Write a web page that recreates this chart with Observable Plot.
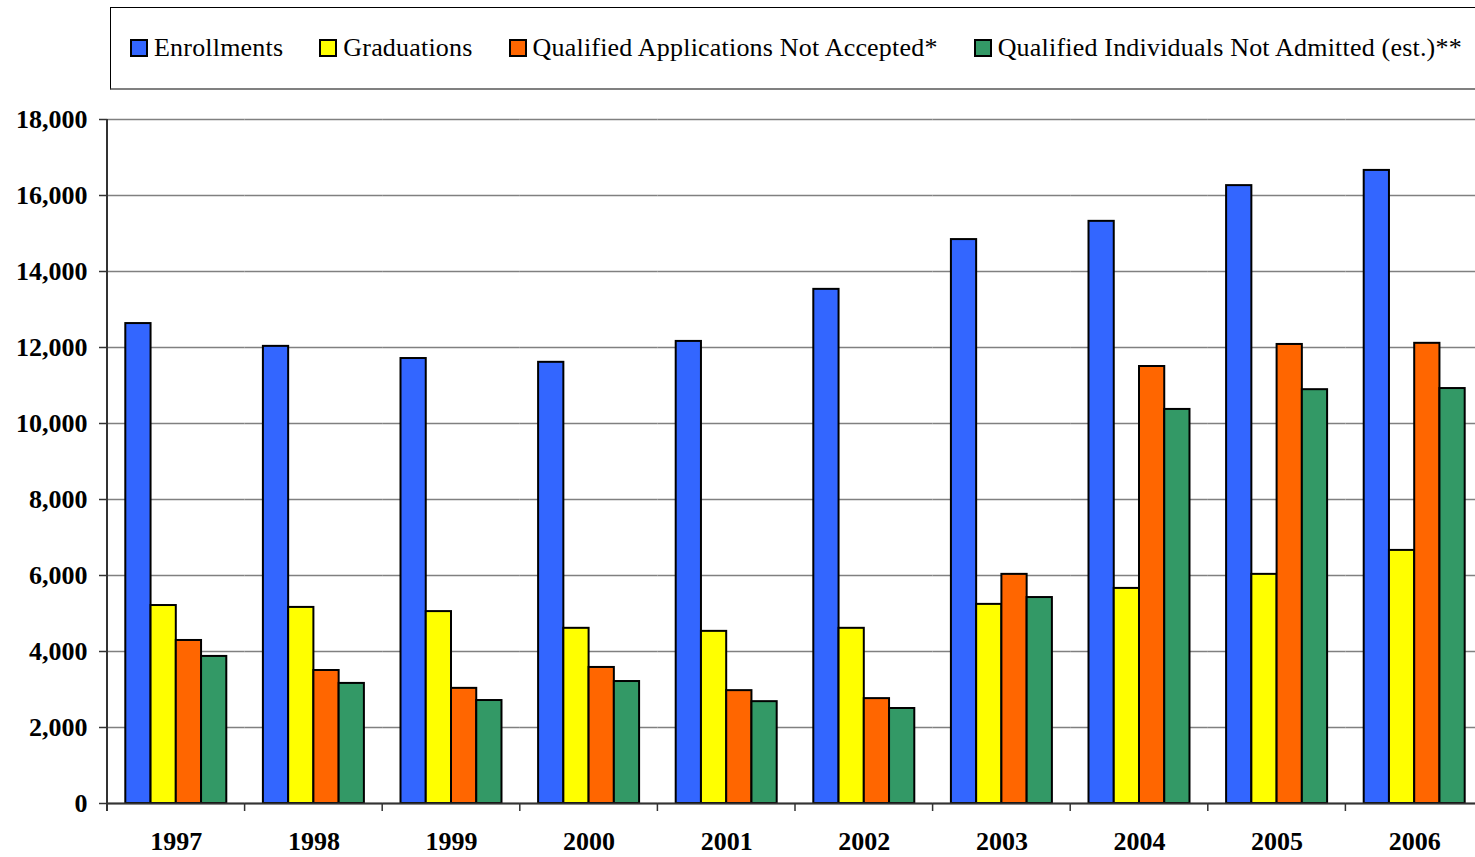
<!DOCTYPE html>
<html><head><meta charset="utf-8">
<script src="https://cdn.jsdelivr.net/npm/d3@7"></script>
<script src="https://cdn.jsdelivr.net/npm/@observablehq/plot@0.6"></script>
<style>
html,body{margin:0;padding:0;background:#fff;overflow:hidden;width:1475px;height:857px;}
#wrap{width:1483px;}
#legend{position:relative;height:100px;width:1483px;font-family:"Liberation Serif","Times New Roman",serif;font-size:26px;color:#000;}
#legend .box{position:absolute;left:110px;top:7px;width:1400px;height:83px;border-top:1px solid #000;border-left:1px solid #000;border-bottom:2px solid #808080;box-sizing:border-box;}
#legend .items{position:absolute;left:130px;top:33px;display:flex;gap:36px;align-items:center;}
#legend .item{display:flex;align-items:center;white-space:nowrap;letter-spacing:0.2px;}
#legend .sw{width:14px;height:14px;border:2px solid #000;margin-right:6px;flex:none;}
</style>
</head><body>
<div id="wrap">
<div id="legend"><div class="box"></div><div class="items"></div></div>
<div id="chart"></div>
</div>
<script>
const years = ["1997","1998","1999","2000","2001","2002","2003","2004","2005","2006"];
const seriesNames = ["Enrollments","Graduations","Qualified Applications Not Accepted*","Qualified Individuals Not Admitted (est.)**"];
const enrollments          = [12630, 12030, 11710, 11610, 12160, 13530, 14840, 15320, 16260, 16660];
const graduations          = [5210, 5160, 5050, 4610, 4530, 4610, 5240, 5660, 6030, 6660];
const qualAppsNotAccepted  = [4290, 3500, 3030, 3580, 2970, 2760, 6030, 11500, 12080, 12110];
const qualIndivNotAdmitted = [3870, 3160, 2710, 3210, 2680, 2500, 5420, 10370, 10890, 10920];
const colors = ["#3366FF","#FFFF00","#FF6600","#339966"];
const yTicks = [0, 2000, 4000, 6000, 8000, 10000, 12000, 14000, 16000, 18000];

const seriesValues = [enrollments, graduations, qualAppsNotAccepted, qualIndivNotAdmitted];
const data = [];
years.forEach((yr, i) => seriesNames.forEach((s, j) => data.push({year: yr, series: s, value: seriesValues[j][i]})));

// legend
const items = d3.select("#legend .items");
seriesNames.forEach((s, j) => {
  const it = items.append("div").attr("class", "item");
  it.append("div").attr("class", "sw").style("background", colors[j]);
  it.append("span").text(s);
});

const chart = Plot.plot({
  width: 1483, height: 757,
  marginLeft: 107, marginRight: 0, marginTop: 19, marginBottom: 54,
  style: {fontFamily: "'Liberation Serif', 'Times New Roman', serif", fontSize: "26px", fontWeight: "bold", background: "#fff", color: "#000", maxWidth: "none", overflow: "visible"},
  fx: {domain: years, padding: 0, round: false, label: null},
  x: {domain: seriesNames, axis: null, paddingInner: 0, paddingOuter: 0.725, round: false},
  y: {domain: [0, 18000], label: null},
  color: {domain: seriesNames, range: colors},
  marks: [
    Plot.gridY(yTicks, {stroke: "#808080", strokeOpacity: 1, strokeWidth: 1.5}),
    Plot.barY(data, {fx: "year", x: "series", y: "value", fill: "series", stroke: "#000", strokeWidth: 2}),
    Plot.ruleY([0], {stroke: "#333", strokeWidth: 2}),
    Plot.axisY(yTicks, {tickFormat: d3.format(","), tickSize: 8, tickPadding: 12, label: null, stroke: "#333", strokeWidth: 1.5}),
    Plot.axisFx({anchor: "bottom", tickSize: 0, tickPadding: 28, label: null})
  ]
});
document.getElementById("chart").appendChild(chart);

// y axis line and category boundary ticks, positioned from the chart's own scales
const fx = chart.scale("fx"), y = chart.scale("y");
const svg = d3.select(chart);
const y0 = y.apply(0), yTop = y.apply(18000);
const x0 = fx.apply(years[0]);
svg.append("line").attr("x1", x0).attr("x2", x0).attr("y1", yTop).attr("y2", y0 + 8)
  .attr("stroke", "#333").attr("stroke-width", 2);
const bounds = years.map(v => fx.apply(v)).concat([fx.apply(years[years.length - 1]) + fx.bandwidth]);
svg.append("g").selectAll("line").data(bounds).join("line")
  .attr("x1", d => d).attr("x2", d => d).attr("y1", y0).attr("y2", y0 + 8)
  .attr("stroke", "#333").attr("stroke-width", 1.5);
</script>
</body></html>
